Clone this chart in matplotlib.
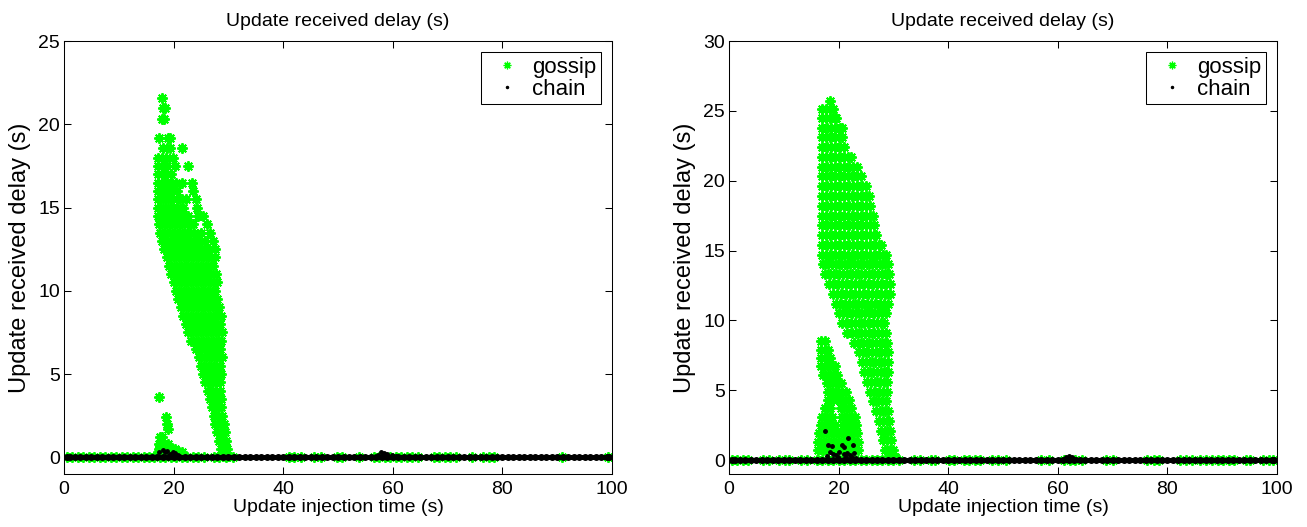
import matplotlib
matplotlib.use("Agg")
import matplotlib.pyplot as plt
from matplotlib.lines import Line2D

plt.rcParams['font.family'] = ['Liberation Sans', 'DejaVu Sans']

GREEN = '#00ff00'
STAR = (8, 2, 0)

# ---- data (delay in s vs injection time in s) ----
# left panel: gossip cloud, rows of (delay, [injection times])
gossip_left_rows = [
    (21.6, [17.8]),
    (21.0, [18.1, 18.4]),
    (20.3, [17.8, 18.2]),
    (19.2, [17.3, 19.0, 19.4]),
    (18.6, [18.0, 18.7, 19.3, 21.5]),
    (18.0, [17.2, 17.9, 18.6, 19.9]),
    (17.5, [17.1, 17.9, 18.7, 20.3, 22.6]),
    (17.0, [17.1, 17.9, 18.8, 19.6]),
    (16.5, [17.1, 17.9, 18.8, 19.7, 20.5, 21.5, 23.3]),
    (16.0, [17.1, 18.0, 18.9, 19.8, 20.7, 23.6]),
    (15.5, [17.1, 18.0, 18.9, 19.8, 20.7, 21.6, 22.2, 24.1]),
    (15.0, [17.2, 18.1, 19.0, 19.9, 20.8, 21.7, 24.2]),
    (14.5, [17.2, 18.1, 19.0, 19.9, 20.8, 21.7, 22.6, 24.4, 25.4]),
    (14.0, [17.3, 18.2, 19.1, 20.0, 20.9, 21.8, 22.7, 23.6, 26.0]),
    (13.5, [17.5, 18.4, 19.3, 20.2, 21.1, 22.0, 22.9, 23.8, 24.9, 26.6]),
    (13.0, [17.8, 18.7, 19.6, 20.5, 21.4, 22.3, 23.2, 24.1, 25.0, 25.8, 27.2]),
    (12.5, [18.3, 19.2, 20.1, 21.0, 21.9, 22.8, 23.7, 24.6, 25.5, 26.4, 27.6]),
    (12.0, [18.7, 19.6, 20.5, 21.4, 22.3, 23.2, 24.1, 25.0, 25.9, 26.8, 27.5]),
    (11.5, [19.1, 20.0, 20.9, 21.8, 22.7, 23.6, 24.5, 25.4, 26.3, 27.2]),
    (11.0, [19.5, 20.4, 21.3, 22.2, 23.1, 24.0, 24.9, 25.8, 26.7, 27.7]),
    (10.5, [20.0, 20.9, 21.8, 22.7, 23.6, 24.5, 25.4, 26.3, 27.2, 27.9]),
    (10.0, [20.4, 21.3, 22.2, 23.1, 24.0, 24.9, 25.8, 26.7, 27.6]),
    (9.5, [20.8, 21.7, 22.6, 23.5, 24.4, 25.3, 26.2, 27.1, 28.0]),
    (9.0, [21.3, 22.2, 23.1, 24.0, 24.9, 25.8, 26.7, 27.6, 28.3]),
    (8.5, [21.7, 22.6, 23.5, 24.4, 25.3, 26.2, 27.1, 28.0, 28.6]),
    (8.0, [22.2, 23.1, 24.0, 24.9, 25.8, 26.7, 27.6, 28.5]),
    (7.5, [22.7, 23.6, 24.5, 25.4, 26.3, 27.2, 28.1, 28.8]),
    (7.0, [23.2, 24.1, 25.0, 25.9, 26.8, 27.7, 28.6]),
    (6.5, [24.0, 24.9, 25.8, 26.7, 27.6, 28.5]),
    (6.0, [24.6, 25.5, 26.4, 27.3, 28.2, 28.8]),
    (5.5, [25.0, 25.9, 26.8, 27.7, 28.5]),
    (5.0, [25.4, 26.3, 27.2, 28.1, 28.6]),
    (4.5, [25.8, 26.7, 27.6, 28.4]),
    (4.0, [26.2, 27.0, 27.8, 28.5]),
    (3.5, [26.6, 27.4, 28.2, 28.7]),
    (3.0, [27.0, 27.8, 28.6]),
    (2.5, [27.3, 28.1, 28.9]),
    (2.0, [27.6, 28.4, 29.1]),
    (1.5, [27.9, 28.7, 29.3]),
    (1.0, [28.3, 29.0, 29.6]),
    (0.5, [28.7, 29.3, 29.8]),
    (0.1, [29.0, 29.6, 30.0]),
    # small group near t = 18 s
    (3.6, [17.3]),
    (2.4, [18.6]),
    (2.0, [18.8]),
    (1.7, [19.0]),
    (1.2, [17.5, 17.9]),
    (0.8, [17.4, 18.2, 19.0]),
    (0.5, [17.3, 18.5, 19.4, 20.2]),
    (0.3, [17.2, 18.0, 19.0, 20.0, 21.0, 21.6]),
]
gossip_left_base = [0.5, 1.5, 2.5, 3.5, 4.5, 5.5, 6.5, 7.5, 8.5, 9.5, 10.5,
                    11.5, 12.5, 13.5, 14.5, 15.5, 16.5, 17.5, 18.5, 19.5, 20.5,
                    21.5, 22.5, 23.5, 24.5, 25.5, 27.3, 28.3, 29.5, 30.8,
                    41.0, 42.0, 43.2, 45.6, 46.8, 49.8, 50.8, 53.8,
                    56.5, 57.5, 58.5, 59.5, 60.5, 61.5, 62.5, 63.5, 64.5,
                    67.5, 68.5, 69.5, 70.5, 71.5, 74.5, 76.5, 77.5, 78.5,
                    90.9, 99.2]
chain_left_bump = [(17.4, 0.3), (18.0, 0.45), (18.4, 0.35), (18.8, 0.4),
                   (19.3, 0.2), (19.8, 0.3), (20.3, 0.25), (20.8, 0.15),
                   (57.2, 0.15), (57.8, 0.3), (58.4, 0.25), (59.0, 0.2),
                   (59.8, 0.15), (60.6, 0.1)]

# right panel: gossip clouds
gossip_right_rows = [
    (25.7, [18.4]),
    (25.1, [16.9, 17.7, 18.5, 19.0]),
    (24.5, [16.9, 17.7, 18.5, 19.3, 19.6]),
    (23.8, [17.0, 17.8, 18.6, 19.4, 20.2, 20.7]),
    (23.1, [16.9, 17.7, 18.5, 19.3, 20.1, 20.6]),
    (22.4, [17.0, 17.8, 18.6, 19.4, 20.2, 21.0]),
    (21.7, [16.9, 17.7, 18.5, 19.3, 20.1, 20.9, 21.7, 22.2]),
    (21.0, [17.0, 17.8, 18.6, 19.4, 20.2, 21.0, 21.8, 22.6, 23.3]),
    (20.3, [16.9, 17.7, 18.5, 19.3, 20.1, 20.9, 21.7, 22.5, 23.3, 24.1]),
    (19.6, [17.0, 17.8, 18.6, 19.4, 20.2, 21.0, 21.8, 22.6, 23.4, 24.2, 25.0]),
    (18.9, [16.9, 17.7, 18.5, 19.3, 20.1, 20.9, 21.7, 22.5, 23.3, 24.1, 24.9,
            25.5]),
    (18.2, [17.0, 17.8, 18.6, 19.4, 20.2, 21.0, 21.8, 22.6, 23.4, 24.2, 25.0,
            25.8]),
    (17.5, [16.9, 17.7, 18.5, 19.3, 20.1, 20.9, 21.7, 22.5, 23.3, 24.1, 24.9,
            25.7, 26.2]),
    (16.8, [17.0, 17.8, 18.6, 19.4, 20.2, 21.0, 21.8, 22.6, 23.4, 24.2, 25.0,
            25.8, 26.5]),
    (16.1, [16.9, 17.7, 18.5, 19.3, 20.1, 20.9, 21.7, 22.5, 23.3, 24.1, 24.9,
            25.7, 26.5, 26.9]),
    (15.4, [17.0, 17.8, 18.6, 19.4, 20.2, 21.0, 21.8, 22.6, 23.4, 24.2, 25.0,
            25.8, 26.6, 27.4, 27.8]),
    (14.7, [16.9, 17.7, 18.5, 19.3, 20.1, 20.9, 21.7, 22.5, 23.3, 24.1, 24.9,
            25.7, 26.5, 27.3, 28.1, 28.6]),
    (14.0, [17.2, 18.0, 18.8, 19.6, 20.4, 21.2, 22.0, 22.8, 23.6, 24.4, 25.2,
            26.0, 26.8, 27.6, 28.4, 29.0]),
    (13.3, [17.6, 18.4, 19.2, 20.0, 20.8, 21.6, 22.4, 23.2, 24.0, 24.8, 25.6,
            26.4, 27.2, 28.0, 28.8, 29.2]),
    (12.6, [18.2, 19.0, 19.8, 20.6, 21.4, 22.2, 23.0, 23.8, 24.6, 25.4, 26.2,
            27.0, 27.8, 28.6, 29.3]),
    (11.9, [18.9, 19.7, 20.5, 21.3, 22.1, 22.9, 23.7, 24.5, 25.3, 26.1, 26.9,
            27.7, 28.5, 29.3]),
    (11.2, [19.5, 20.3, 21.1, 21.9, 22.7, 23.5, 24.3, 25.1, 25.9, 26.7, 27.5,
            28.3, 29.0]),
    (10.5, [20.0, 20.8, 21.6, 22.4, 23.2, 24.0, 24.8, 25.6, 26.4, 27.2, 28.0,
            28.6]),
    (9.8, [20.6, 21.4, 22.2, 23.0, 23.8, 24.6, 25.4, 26.2, 27.0, 27.8, 28.3]),
    (9.1, [21.6, 22.4, 23.2, 24.0, 24.8, 25.6, 26.4, 27.2, 28.0, 28.6]),
    (8.4, [22.8, 23.6, 24.4, 25.2, 26.0, 26.8, 27.6, 28.4, 28.9]),
    (7.7, [23.7, 24.5, 25.3, 26.1, 26.9, 27.7, 28.5, 29.0]),
    (7.0, [24.2, 25.0, 25.8, 26.6, 27.4, 28.2, 29.0]),
    (6.3, [24.6, 25.4, 26.2, 27.0, 27.8, 28.6, 29.0]),
    (5.6, [25.1, 25.9, 26.7, 27.5, 28.3, 28.9]),
    (4.9, [25.7, 26.5, 27.3, 28.1, 28.8]),
    (4.2, [26.3, 27.1, 27.9, 28.7]),
    (3.5, [26.8, 27.6, 28.4, 29.0]),
    (2.8, [27.3, 28.1, 28.9, 29.2]),
    (2.1, [27.7, 28.5, 29.3]),
    (1.4, [28.1, 28.9, 29.6]),
    (0.7, [28.5, 29.3, 30.0]),
    (0.2, [29.0, 29.7, 30.2]),
    # second, lower cloud
    (8.5, [16.8, 17.5]),
    (7.9, [16.8, 17.6, 18.1]),
    (7.3, [16.7, 17.6, 18.4]),
    (6.7, [16.7, 17.6, 18.5, 19.4]),
    (6.1, [17.2, 18.1, 19.0, 19.7]),
    (5.5, [17.8, 18.7, 19.6, 20.5]),
    (4.9, [18.0, 18.9, 19.8, 20.7, 21.4]),
    (4.3, [18.1, 19.0, 20.2, 21.1, 21.9]),
    (3.7, [17.5, 18.4, 20.4, 21.3, 22.2]),
    (3.1, [17.0, 17.9, 18.8, 20.6, 21.5, 22.4, 23.0]),
    (2.5, [16.7, 17.6, 18.5, 19.4, 20.8, 21.7, 22.6, 23.2]),
    (1.9, [16.4, 17.3, 18.2, 19.1, 20.0, 21.0, 21.9, 22.8, 23.4]),
    (1.3, [16.3, 17.2, 18.1, 19.0, 19.9, 20.8, 21.7, 22.6, 23.5]),
    (0.7, [16.2, 17.1, 18.0, 18.9, 19.8, 20.7, 21.6, 22.5, 23.5]),
]
gossip_right_base = [0.5, 1.5, 2.5, 3.4, 6.2, 7.3, 9.2, 10.2, 11.0, 13.2, 14.3,
                     16.0, 17.0, 18.0, 19.0, 20.0, 21.0, 22.0, 23.0, 24.0,
                     25.0, 26.0, 27.0, 28.0, 29.0, 30.0, 31.0,
                     33.8, 34.8, 36.8, 37.6, 40.2, 41.0, 42.8, 43.8, 44.8,
                     45.8, 48.0, 49.0, 50.5, 57.0, 58.3, 61.2, 62.2, 63.2,
                     64.4, 68.8, 70.0, 76.3, 77.5, 78.5, 82.2, 83.3, 84.5,
                     86.0, 87.0, 88.2, 89.2, 90.2, 91.2, 92.2, 94.3, 95.0,
                     97.5, 98.5, 99.2]
chain_right_bump = [(17.6, 2.1), (21.7, 1.6), (18.1, 1.05), (18.7, 1.0),
                    (20.6, 1.1), (21.0, 0.9), (22.6, 1.05), (18.4, 0.6),
                    (19.0, 0.45), (19.5, 0.35), (20.1, 0.55), (20.9, 0.4),
                    (21.5, 0.5), (22.1, 0.35), (22.8, 0.5), (17.8, 0.3),
                    (19.8, 0.2), (21.3, 0.2), (22.4, 0.2), (23.2, 0.15),
                    (61.4, 0.2), (62.0, 0.3), (62.6, 0.2), (63.3, 0.1)]

# chain: everything else arrives with (almost) zero delay
chain_base = [0.6, 1, 2, 3, 4, 5, 6, 7, 8, 9, 10, 11, 12, 13, 14, 15, 16, 17,
              18, 19, 20, 21, 22, 23, 24, 25, 26, 27, 28, 29, 30, 31, 32, 33,
              34, 35, 36, 37, 38, 39, 40, 41, 42, 43, 44, 45, 46, 47, 48, 49,
              50, 51, 52, 53, 54, 55, 56, 57, 58, 59, 60, 61, 62, 63, 64, 65,
              66, 67, 68, 69, 70, 71, 72, 73, 74, 75, 76, 77, 78, 79, 80, 81,
              82, 83, 84, 85, 86, 87, 88, 89, 90, 91, 92, 93, 94, 95, 96, 97,
              98, 99, 99.5]

y_limits = [(-1, 25), (-1, 30)]
y_ticks = [[0, 5, 10, 15, 20, 25], [0, 5, 10, 15, 20, 25, 30]]
x_ticks = [0, 20, 40, 60, 80, 100]


def flatten(rows):
    xs = [x for y, row in rows for x in row]
    ys = [y for y, row in rows for x in row]
    return xs, ys


fig = plt.figure(figsize=(13.07, 5.27), dpi=100)
ax1 = fig.add_axes([0.0490, 0.1006, 0.4193, 0.8216])
ax2 = fig.add_axes([0.5578, 0.1006, 0.4193, 0.8216])

panels = [
    (ax1, gossip_left_rows, gossip_left_base, chain_left_bump),
    (ax2, gossip_right_rows, gossip_right_base, chain_right_bump),
]

for i, (ax, rows, gbase, bump) in enumerate(panels):
    gx, gy = flatten(rows)
    gx = gx + gbase
    gy = gy + [0.0] * len(gbase)
    ax.plot(gx, gy, ls='none', marker=STAR, markersize=7.5,
            markeredgewidth=1.4, color=GREEN)
    # zero-delay chain updates are so dense they merge into a solid line
    ax.plot(chain_base, [0.0] * len(chain_base), ls='-', lw=3.6,
            marker='.', markersize=8, color='k', solid_capstyle='round')
    ax.plot([p[0] for p in bump], [p[1] for p in bump], ls='none',
            marker='.', markersize=5, color='k')

    ax.set_xlim(0, 100)
    ax.set_ylim(*y_limits[i])
    ax.set_xticks(x_ticks)
    ax.set_yticks(y_ticks[i])
    ax.tick_params(direction='in', length=5, width=0.75, top=True,
                   right=True, labelsize=14)
    ax.tick_params(axis='x', pad=5)
    ax.tick_params(axis='y', pad=3)
    for s in ax.spines.values():
        s.set_linewidth(0.75)
    ax.set_title('Update received delay (s)', fontsize=14, pad=11)
    ax.set_xlabel('Update injection time (s)', fontsize=14, labelpad=0.5)
    ax.set_ylabel('Update received delay (s)', fontsize=17, labelpad=5)

    handles = [
        Line2D([], [], ls='none', marker=STAR, markersize=5.5,
               markeredgewidth=0.9, color=GREEN),
        Line2D([], [], ls='none', marker='.', markersize=3, color='k'),
    ]
    leg = ax.legend(handles, ['gossip', 'chain'], loc='upper right',
                    fontsize=16, fancybox=False, framealpha=1,
                    edgecolor='k', borderaxespad=0.5, handlelength=1.95,
                    handletextpad=0.15, borderpad=0.2, labelspacing=0.05)
    leg.get_frame().set_linewidth(0.75)

fig.savefig('out.png', dpi=100)
